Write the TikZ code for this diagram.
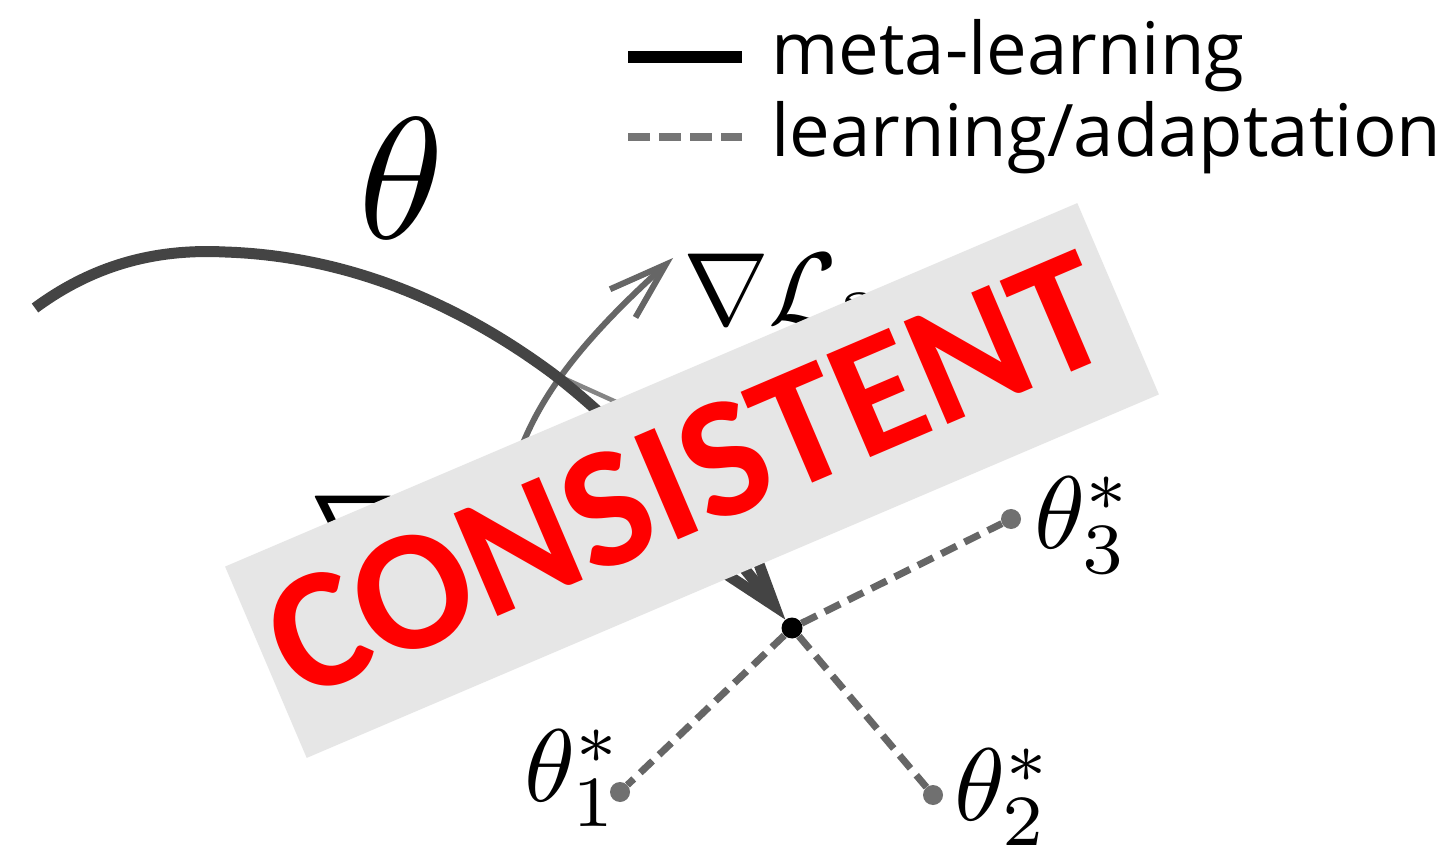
\documentclass[tikz,border=0pt]{standalone}
\usepackage{fontspec}
\usetikzlibrary{arrows.meta}
\newfontfamily\legendfont{Open Sans}
\newfontfamily\stampfont{Carlito}
\definecolor{metagray}{HTML}{444444}
\definecolor{gradgray}{HTML}{666666}
\definecolor{adaptgray}{HTML}{666666}
\definecolor{dotgray}{HTML}{707070}
\definecolor{stampbg}{HTML}{E6E6E6}
\definecolor{stampred}{HTML}{FF0000}
\tikzset{
  metaline/.style={draw=metagray, line width=11pt, line cap=butt,
    -{Straight Barb[length=82pt,width=54pt]}},
  gradline/.style={draw=gradgray, line width=6pt,
    -{Straight Barb[length=58pt,width=38pt]}},
  faintline/.style={draw=gradgray!80, line width=4.5pt},
  adaptline/.style={draw=adaptgray, line width=7pt, dash pattern=on 17pt off 9pt},
  blackdot/.style={circle, fill=black, inner sep=0pt, minimum size=21pt},
  graydot/.style={circle, fill=dotgray, inner sep=0pt, minimum size=20pt},
  mathlbl/.style={inner sep=0pt, anchor=base west, scale=10.3},
  legendtext/.style={inner sep=0pt, anchor=base west, font=\legendfont\fontsize{72.5}{84}\selectfont},
  stampbox/.style={fill=stampbg, inner sep=0pt, minimum width=926.5pt, minimum height=208pt, rotate=23.1},
  stamptext/.style={inner sep=0pt, text=stampred, rotate=23.1, font=\stampfont\bfseries\fontsize{172}{172}\selectfont}
}
\begin{document}
\begin{tikzpicture}[x=1pt, y=1pt]
\useasboundingbox[fill=white] (0,0) rectangle (1450,852);

% legend
\coordinate (lm1) at (628,795);
\coordinate (lm2) at (742,795);
\coordinate (la1) at (628,715);
\coordinate (la2) at (742,715);
\draw[black, line width=12pt] (lm1) -- (lm2);
\draw[gradgray!90, line width=8pt, dash pattern=on 22pt off 9pt] (la1) -- (la2);
\node[legendtext] (legmeta) at (771,777) {meta-learning};
\node[legendtext] (legadapt) at (771,695) {learning/adaptation};

% big theta
\node[inner sep=0pt, anchor=base west, scale=17.3] (theta) at (355,613) {$\theta$};

% points
\node[blackdot] (c) at (792,224) {};
\node[graydot] (t1) at (620,60) {};
\node[graydot] (t2) at (933,57) {};
\node[graydot] (t3) at (1011,333) {};

\node[mathlbl] (lt1) at (522,51) {$\theta_1^*$};
\node[mathlbl] (lt2) at (952,32) {$\theta_2^*$};
\node[mathlbl] (lt3) at (1032,304) {$\theta_3^*$};

% adaptation lines
\draw[adaptline] (c) -- (t1);
\draw[adaptline] (c) -- (t2);
\draw[adaptline] (c) -- (t3);

% gradient labels
\node[mathlbl] (gl3) at (681,527) {$\nabla\mathcal{L}_3$};
\node[mathlbl] (gl2) at (308,286) {$\nabla\mathcal{L}_2$};

% gradient arrows
\coordinate (gbase) at (508,362);
\coordinate (gcross) at (552,479);
\coordinate (gtip) at (673,594);
\coordinate (gfaint) at (645,437);
\draw[faintline] (gcross) -- (gfaint);
\draw[gradline] (gbase) .. controls (525,432) and (560,492) .. (gtip);

% meta-learning curve
\coordinate (mstart) at (35,544);
\draw[metaline] (mstart) .. controls (100,592) and (165,603) .. (225,600)
  .. controls (350,596) and (460,547) .. (552,479)
  .. controls (640,412) and (730,302) .. (c);

% stamp
\node[stampbox] (stamp) at (692,371.5) {};
\node[stamptext] (stamptxt) at (688,377) {CONSISTENT};
\end{tikzpicture}
\end{document}
